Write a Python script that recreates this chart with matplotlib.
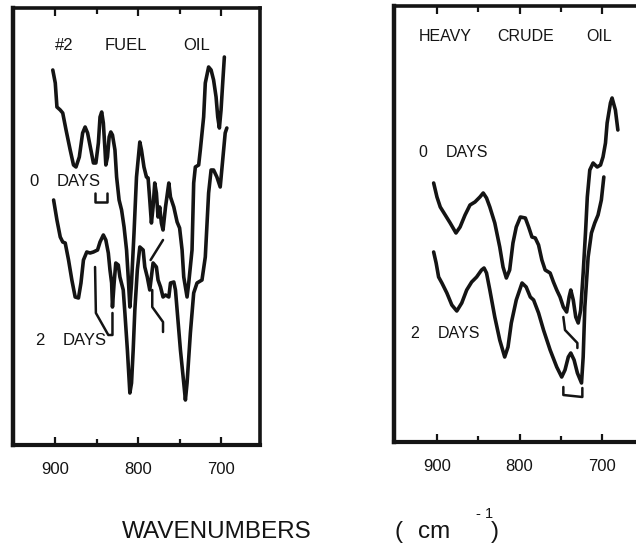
import matplotlib
matplotlib.use("Agg")
import matplotlib.pyplot as plt
from matplotlib.ticker import FixedLocator

plt.rcParams['font.family'] = ['Liberation Sans', 'DejaVu Sans']

# ---------------- data: #2 fuel oil ----------------
fuel_0d_wn = [903, 900, 898, 894, 891, 887, 882, 878, 875, 871, 867, 864, 861, 857, 854, 851,
              848, 846, 844, 842, 840, 839, 837, 835, 833, 831, 828, 826, 823, 820, 817, 814,
              812, 810, 808, 805, 802, 798, 796, 793, 790, 788, 786, 784, 782, 780, 778, 776,
              774, 772, 770, 767, 763, 761, 757, 753, 750, 747, 745, 741, 739, 735, 733, 731,
              727, 725, 721, 719, 715, 712, 709, 706, 704, 702, 700, 698, 696]
fuel_0d_t = [375, 362, 338, 335, 332, 315, 295, 280, 278, 288, 312, 318, 312, 295, 282, 282,
             302, 328, 333, 322, 295, 280, 288, 308, 313, 310, 295, 268, 245, 235, 218, 195,
             168, 138, 162, 212, 268, 303, 295, 278, 268, 267, 245, 222, 238, 262, 252, 228,
             238, 222, 215, 238, 262, 248, 238, 223, 217, 195, 168, 148, 162, 195, 262, 278,
             280, 295, 328, 362, 378, 375, 365, 348, 328, 317, 335, 362, 388]

fuel_2d_wn = [902, 898, 894, 891, 888, 884, 880, 876, 872, 869, 866, 862, 858, 854, 849, 846,
              842, 839, 836, 834, 832, 831, 829, 827, 824, 822, 818, 816, 813, 810, 808, 806,
              804, 801, 798, 794, 792, 789, 786, 782, 778, 776, 773, 770, 767, 763, 761, 757,
              755, 753, 749, 745, 743, 741, 737, 733, 729, 723, 719, 715, 712, 709, 705, 701,
              698, 695, 693]
fuel_2d_t = [245, 225, 208, 203, 202, 185, 165, 148, 147, 162, 185, 193, 192, 193, 195, 203,
             210, 205, 192, 175, 162, 138, 162, 182, 180, 168, 155, 132, 95, 52, 62, 95,
             135, 175, 198, 195, 178, 168, 155, 182, 178, 165, 158, 148, 150, 148, 162, 163,
             155, 135, 95, 62, 45, 62, 112, 152, 162, 165, 188, 252, 275, 275, 268, 258,
             285, 312, 317]

# marker brackets (fuel oil)
fuel_mark1_wn = [852, 852, 837, 837]
fuel_mark1_t = [252, 243, 243, 252]
fuel_mark2_wn = [852, 851, 836, 831, 831]
fuel_mark2_t = [178, 132, 110, 110, 132]
fuel_mark3_wn = [785, 770]
fuel_mark3_t = [185, 205]
fuel_mark4_wn = [783, 783, 770, 770]
fuel_mark4_t = [155, 138, 123, 113]

# ---------------- data: heavy crude oil ----------------
crude_0d_wn = [904, 900, 896, 890, 884, 877, 872, 866, 860, 854, 848, 844, 840, 836, 830, 824,
               820, 816, 812, 808, 804, 799, 793, 789, 785, 781, 777, 773, 769, 763, 759, 755,
               751, 747, 743, 740, 738, 735, 732, 729, 726, 723, 720, 718, 715, 711, 706, 702,
               699, 696, 694, 690, 688, 684, 681]
crude_0d_t = [259, 245, 235, 227, 219, 209, 215, 227, 237, 240, 245, 249, 244, 235, 219, 195,
              175, 164, 172, 199, 215, 225, 224, 215, 205, 204, 197, 182, 172, 169, 160, 152,
              145, 135, 130, 145, 152, 142, 125, 119, 132, 169, 212, 245, 272, 279, 275, 277,
              285, 299, 319, 339, 344, 332, 312]

crude_2d_wn = [904, 901, 898, 894, 888, 882, 876, 870, 864, 858, 852, 846, 843, 840, 836, 830,
               824, 818, 814, 810, 804, 797, 792, 787, 783, 777, 771, 763, 755, 749, 745, 741,
               738, 734, 730, 725, 723, 721, 717, 713, 709, 705, 701, 698]
crude_2d_t = [190, 179, 165, 159, 149, 137, 131, 139, 152, 160, 165, 172, 174, 169, 152, 125,
              102, 85, 95, 119, 142, 159, 155, 145, 142, 129, 112, 92, 75, 65, 72, 85,
              89, 82, 69, 59, 85, 135, 185, 209, 219, 227, 242, 265]

crude_mark1_wn = [747, 745, 730, 730]
crude_mark1_t = [125, 112, 99, 94]
crude_mark2_wn = [747, 747, 724, 724]
crude_mark2_t = [55, 47, 45, 54]

xticks_major = [900, 800, 700]
xticks_minor = [850, 750]
xtick_labels = ["900", "800", "700"]

W, H = 636, 545
fig = plt.figure(figsize=(W / 100, H / 100), dpi=100)

ink = '#141414'
lw = 2.6


def setup(ax, xlim, ylim):
    ax.set_xlim(*xlim)
    ax.set_ylim(*ylim)
    ax.xaxis.set_major_locator(FixedLocator(xticks_major))
    ax.xaxis.set_minor_locator(FixedLocator(xticks_minor))
    ax.set_xticklabels(xtick_labels)
    ax.set_yticks([])
    ax.tick_params(axis='x', which='both', direction='in', top=True, bottom=True,
                   width=1.6, color=ink, labelsize=12, pad=12, labelcolor=ink)
    ax.tick_params(axis='x', which='major', length=6)
    ax.tick_params(axis='x', which='minor', length=4)
    for s in ax.spines.values():
        s.set_linewidth(2.6)
        s.set_color(ink)
    ax.spines['left'].set_linewidth(3.2)
    ax.spines['bottom'].set_linewidth(3.0)


def curve(ax, x, y, w=lw):
    ax.plot(x, y, color=ink, lw=w, solid_joinstyle='round', solid_capstyle='round')


# left panel
ax1 = fig.add_axes([13 / W, 1 - 445 / H, 247 / W, 437 / H])
setup(ax1, (951, 653), (0, 437))
curve(ax1, fuel_0d_wn, fuel_0d_t)
curve(ax1, fuel_2d_wn, fuel_2d_t)
for mx, my in [(fuel_mark1_wn, fuel_mark1_t), (fuel_mark2_wn, fuel_mark2_t),
               (fuel_mark3_wn, fuel_mark3_t), (fuel_mark4_wn, fuel_mark4_t)]:
    curve(ax1, mx, my, 1.8)

tk = dict(transform=ax1.transAxes, fontsize=12, color=ink, va='center', ha='left')
ax1.text(0.170, 0.915, "#2", **tk)
ax1.text(0.372, 0.915, "FUEL", **tk)
ax1.text(0.688, 0.915, "OIL", **tk)
ax1.text(0.065, 0.602, "0", **tk)
ax1.text(0.178, 0.602, "DAYS", **tk)
ax1.text(0.089, 0.240, "2", **tk)
ax1.text(0.202, 0.240, "DAYS", **tk)

# right panel (runs past the right edge of the figure)
ax2 = fig.add_axes([394 / W, 1 - 442 / H, 247 / W, 436 / H])
setup(ax2, (952, 653), (0, 436))
curve(ax2, crude_0d_wn, crude_0d_t)
curve(ax2, crude_2d_wn, crude_2d_t)
for mx, my in [(crude_mark1_wn, crude_mark1_t), (crude_mark2_wn, crude_mark2_t)]:
    curve(ax2, mx, my, 1.8)

tk2 = dict(transform=ax2.transAxes, fontsize=11.5, color=ink, va='center', ha='left')
ax2.text(0.101, 0.929, "HEAVY", **tk2)
ax2.text(0.417, 0.929, "CRUDE", **tk2)
ax2.text(0.777, 0.929, "OIL", **tk2)
ax2.text(0.097, 0.663, "0", **tk2)
ax2.text(0.211, 0.663, "DAYS", **tk2)
ax2.text(0.065, 0.250, "2", **tk2)
ax2.text(0.178, 0.250, "DAYS", **tk2)

# shared axis title
yb = 1 - 538 / H
fig.text(122 / W, yb, "WAVENUMBERS", fontsize=17.5, color=ink, ha='left', va='baseline')
fig.text(394 / W, yb, "(", fontsize=17.5, color=ink, ha='left', va='baseline')
fig.text(418 / W, yb, "cm", fontsize=17.5, color=ink, ha='left', va='baseline')
fig.text(476 / W, 1 - 518 / H, "- 1", fontsize=10.5, color=ink, ha='left', va='baseline')
fig.text(491 / W, yb, ")", fontsize=17.5, color=ink, ha='left', va='baseline')

fig.savefig("out.png", dpi=100, facecolor='white')
